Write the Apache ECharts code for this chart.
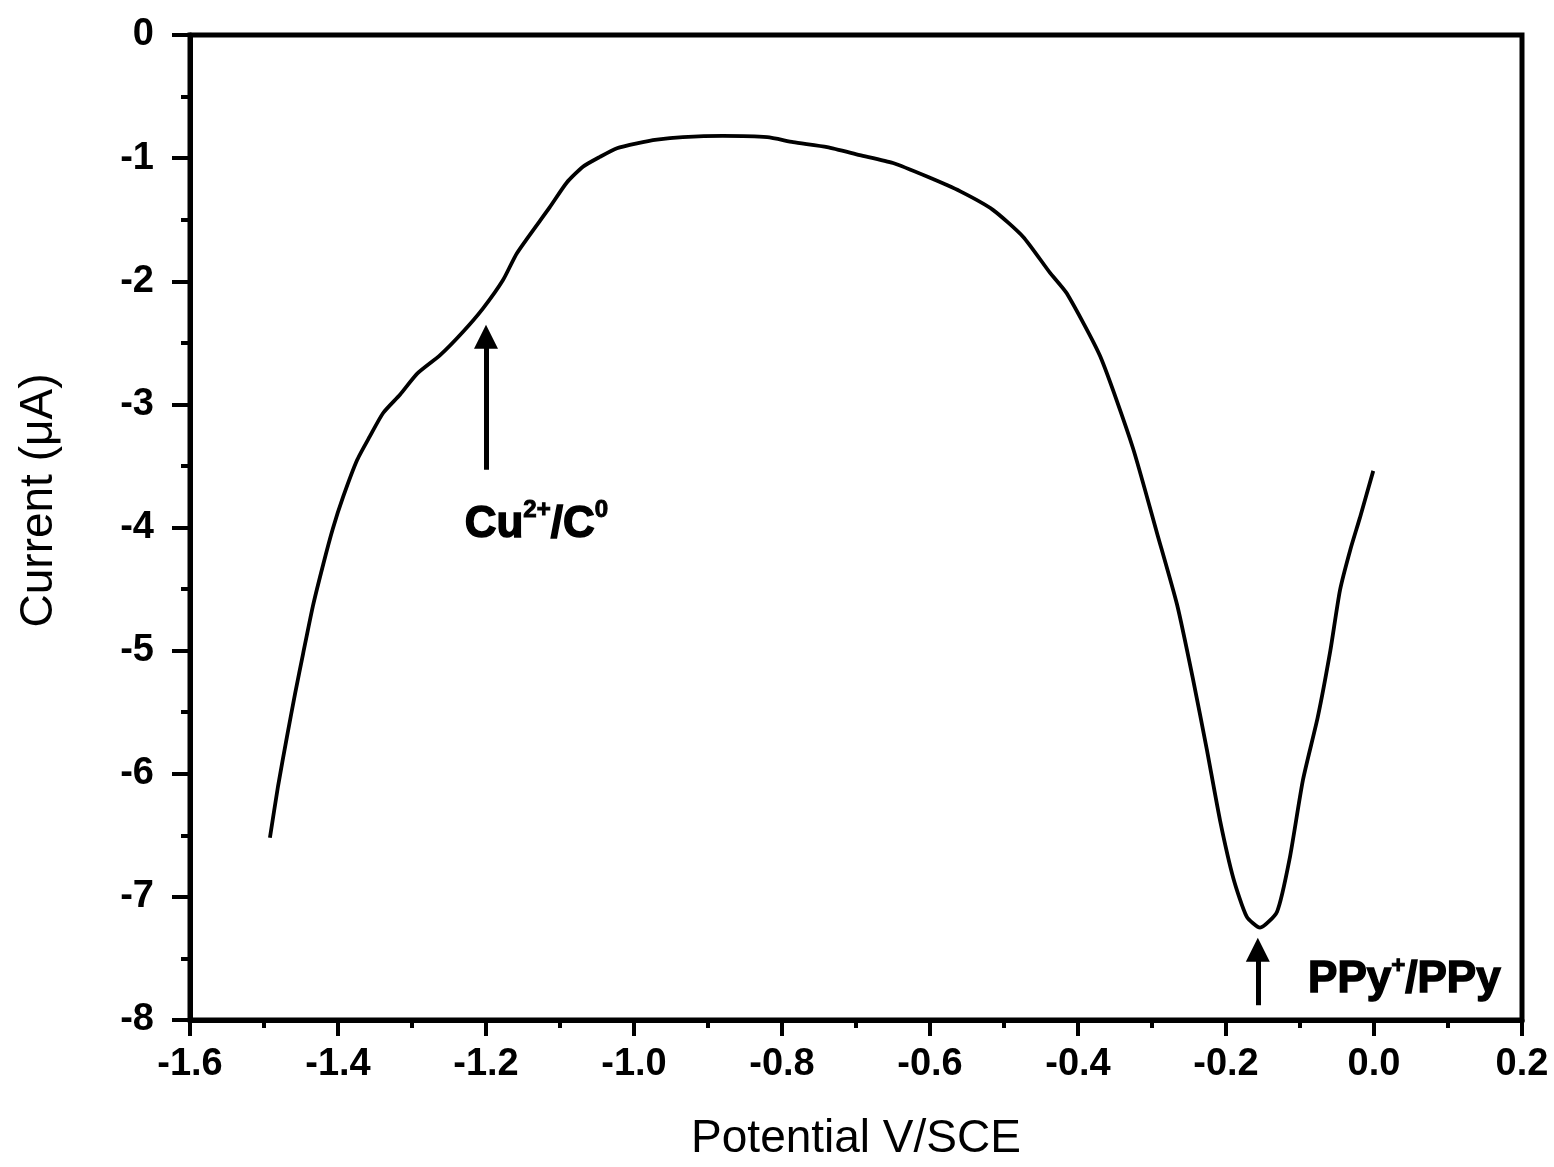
<!DOCTYPE html>
<html>
<head>
<meta charset="utf-8">
<title>Current vs Potential</title>
<script src="https://cdn.jsdelivr.net/npm/echarts@6/dist/echarts.min.js"></script>
<style>
  html, body { margin: 0; padding: 0; background: #fff; }
  #chart { width: 1554px; height: 1167px; }
</style>
</head>
<body>
<div id="chart"></div>
<script>
// Potential (V vs SCE) and measured current (µA) along the sweep
const potential = [
  -1.492, -1.481, -1.469, -1.458, -1.447, -1.434, -1.420, -1.407, -1.393, -1.374,
  -1.357, -1.339, -1.316, -1.293, -1.262, -1.231, -1.204, -1.177, -1.158, -1.114,
  -1.091, -1.069, -1.046, -1.023, -0.996, -0.969, -0.934, -0.880, -0.820, -0.785,
  -0.739, -0.695, -0.650, -0.604, -0.559, -0.515, -0.474, -0.438, -0.415, -0.370,
  -0.326, -0.293, -0.266, -0.245, -0.226, -0.208, -0.190, -0.172, -0.154, -0.131,
  -0.114, -0.096, -0.076, -0.059, -0.046, -0.032, -0.019, -0.001
];
const current = [
  -6.52, -6.10, -5.70, -5.35, -5.02, -4.64, -4.30, -4.01, -3.75, -3.45,
  -3.26, -3.07, -2.92, -2.75, -2.60, -2.41, -2.22, -1.99, -1.77, -1.40,
  -1.20, -1.07, -0.99, -0.92, -0.88, -0.85, -0.83, -0.82, -0.83, -0.87,
  -0.91, -0.975, -1.04, -1.15, -1.27, -1.42, -1.64, -1.93, -2.10, -2.61,
  -3.35, -4.05, -4.63, -5.22, -5.80, -6.38, -6.85, -7.16, -7.25, -7.12,
  -6.69, -6.05, -5.54, -5.00, -4.51, -4.18, -3.92, -3.54
];

// Axis tick values
const xTicks = [-1.6, -1.4, -1.2, -1.0, -0.8, -0.6, -0.4, -0.2, 0.0, 0.2];
const yTicks = [0, -1, -2, -3, -4, -5, -6, -7, -8];

// Peak annotations: arrow tail/head and label anchor, in data units
const cuArrow = { x: -1.2, from: -3.53, to: -2.45 };
const cuLabel = { x: -1.132, y: -3.96 };
const ppyArrow = { x: -0.157, from: -7.88, to: -7.43 };
const ppyLabel = { x: 0.041, y: -7.66 };

const curve = potential.map((v, i) => [v, current[i]]);

const tickFont = {
  fontFamily: '"Liberation Sans", Arial, sans-serif',
  fontWeight: 'bold',
  fontSize: 38,
  color: '#000'
};

const annFont = '"Liberation Sans", Arial, sans-serif';
const annRich = {
  b: { fontFamily: annFont, fontWeight: 'bold', fontSize: 44, color: '#000', lineHeight: 48, verticalAlign: 'bottom',
       textBorderColor: '#000', textBorderWidth: 1.5 },
  s: { fontFamily: annFont, fontWeight: 'bold', fontSize: 24, color: '#000', lineHeight: 48, verticalAlign: 'top',
       textBorderColor: '#000', textBorderWidth: 1 }
};

const chart = echarts.init(document.getElementById('chart'), null, { renderer: 'canvas' });

chart.setOption({
  animation: false,
  backgroundColor: '#fff',
  grid: {
    left: 190, right: 32, top: 35, bottom: 147,
    show: true, borderColor: '#000', borderWidth: 5, backgroundColor: 'transparent'
  },
  xAxis: {
    type: 'value',
    min: xTicks[0], max: xTicks[xTicks.length - 1], interval: 0.2,
    name: 'Potential V/SCE',
    nameLocation: 'middle', nameGap: 96,
    nameTextStyle: { fontFamily: annFont, fontSize: 46, color: '#000' },
    axisLine: { show: true, onZero: false, lineStyle: { color: '#000', width: 5 } },
    axisTick: { show: true, inside: false, length: 16, lineStyle: { color: '#000', width: 4 } },
    minorTick: { show: true, splitNumber: 2, length: 8, lineStyle: { color: '#000', width: 4 } },
    splitLine: { show: false },
    axisLabel: Object.assign({ margin: 26, formatter: v => v.toFixed(1) }, tickFont)
  },
  yAxis: {
    type: 'value',
    min: yTicks[yTicks.length - 1], max: yTicks[0], interval: 1,
    name: 'Current (\u03BCA)',
    nameLocation: 'middle', nameGap: 128,
    nameTextStyle: { fontFamily: annFont, fontSize: 46, color: '#000', padding: [0, 0, 0, 54] },
    axisLine: { show: true, onZero: false, lineStyle: { color: '#000', width: 5 } },
    axisTick: { show: true, inside: false, length: 18, lineStyle: { color: '#000', width: 4 } },
    minorTick: { show: true, splitNumber: 2, length: 9, lineStyle: { color: '#000', width: 4 } },
    splitLine: { show: false },
    axisLabel: Object.assign({ margin: 36, formatter: v => String(v) }, tickFont)
  },
  series: [
    {
      type: 'line',
      data: curve,
      showSymbol: false,
      smooth: 0.2,
      lineStyle: { color: '#000', width: 3.8 },
      z: 3,
      markLine: {
        silent: true,
        symbol: ['none', 'triangle'],
        symbolSize: [24, 24],
        lineStyle: { color: '#000', width: 5, type: 'solid' },
        itemStyle: { color: '#000' },
        label: { show: false },
        data: [
          [{ coord: [cuArrow.x, cuArrow.from] }, { coord: [cuArrow.x, cuArrow.to] }],
          [{ coord: [ppyArrow.x, ppyArrow.from] }, { coord: [ppyArrow.x, ppyArrow.to] }]
        ]
      }
    },
    {
      type: 'scatter',
      symbolSize: 0,
      silent: true,
      itemStyle: { color: '#000', opacity: 1 },
      data: [[cuLabel.x, cuLabel.y], [ppyLabel.x, ppyLabel.y]],
      label: {
        show: true,
        position: 'inside',
        color: '#000',
        opacity: 1,
        textBorderWidth: 0,
        formatter: p => p.dataIndex === 0 ? '{b|Cu}{s|2+}{b|/C}{s|0}' : '{b|PPy}{s|+}{b|/PPy}',
        rich: annRich
      }
    }
  ]
});
</script>
</body>
</html>
